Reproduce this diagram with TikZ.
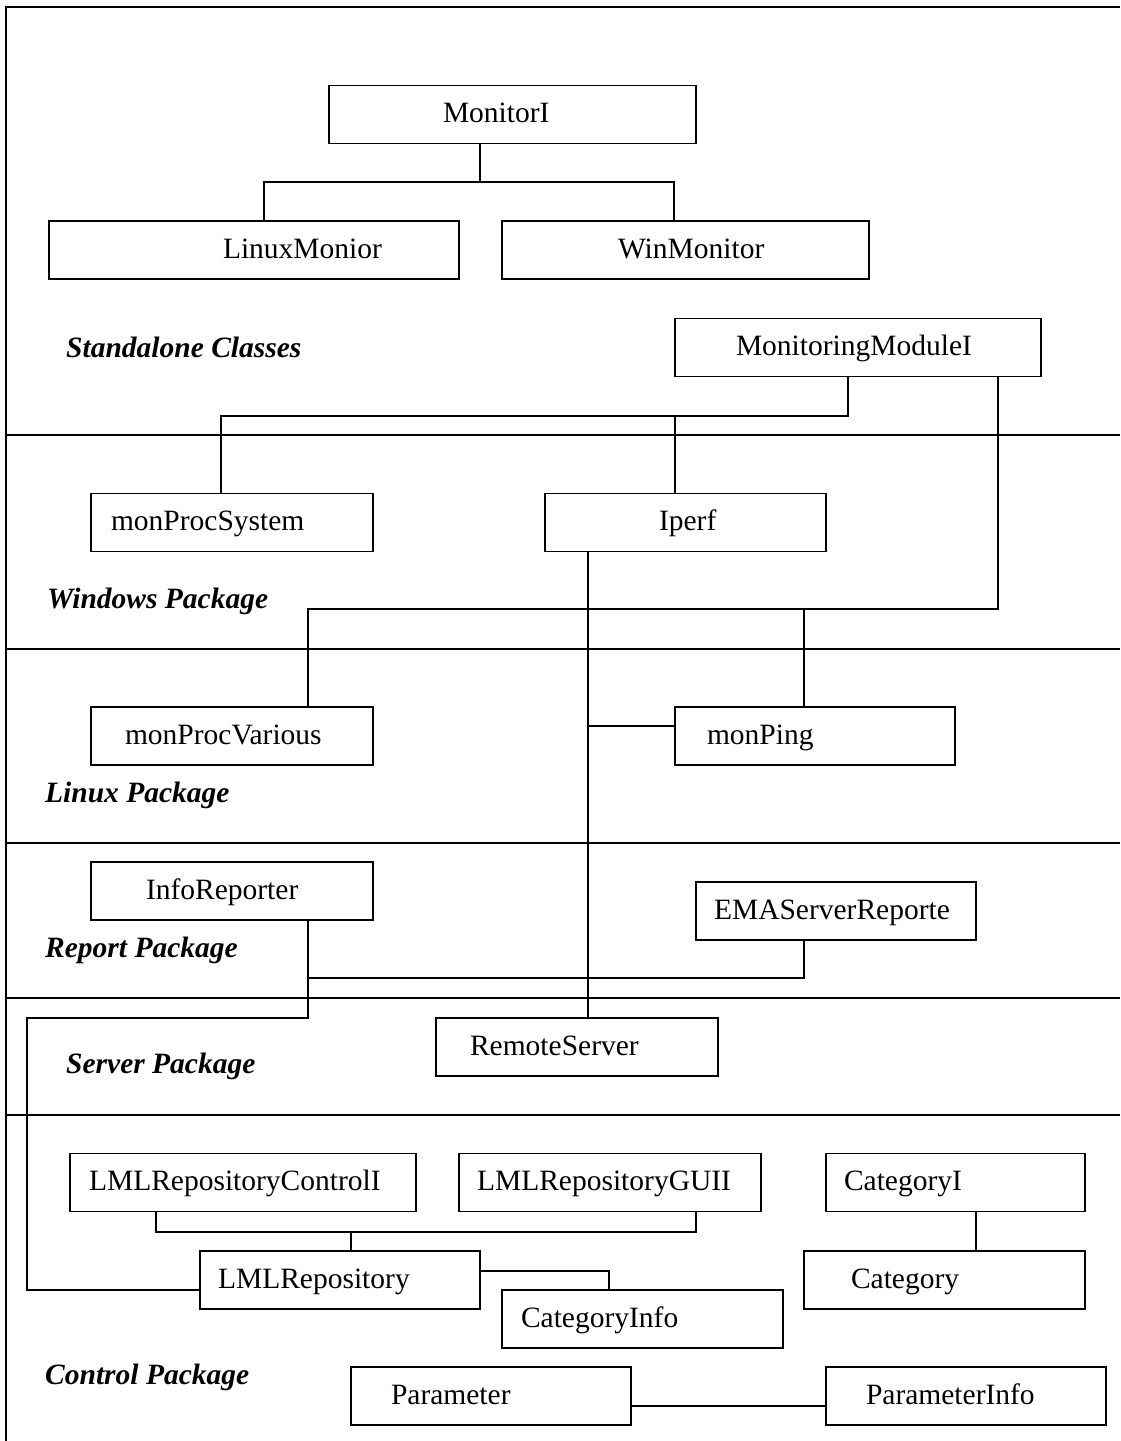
\documentclass[tikz,border=0pt]{standalone}
\usepackage{fontspec}
\setmainfont{Liberation Serif}

\begin{document}
\begin{tikzpicture}[
    x=1pt, y=-1pt,
    box/.style={draw, line width=1.6pt, text width=#1pt, minimum height=58pt,
        text height=21pt, text depth=5pt,
        inner xsep=0pt, align=left, font=\fontsize{29.5}{34}\selectfont},
    pad/.style={execute at begin node={\noindent\hspace*{#1pt}}},
    pkg/.style={anchor=base west, inner sep=0pt,
        font=\fontsize{29.5}{34}\selectfont\bfseries\itshape},
    link/.style={line width=1.2pt},
    frame/.style={line width=2pt}
]
\useasboundingbox (0,0) rectangle (1120,1441);

\draw[frame] (1120,7) -- (6,7) -- (6,1441);
\foreach \y in {435, 649, 843, 998, 1115}
    \draw[frame] (6,\y) -- (1120,\y);

\node[box=367, pad=114] (monitorI) at (512.5,114.5) {MonitorI};
\node[box=410, pad=174] (linuxMon) at (254,250) {LinuxMonior};
\node[box=367, pad=116] (winMon) at (685.5,250) {WinMonitor};
\node[box=366, pad=61] (monModule) at (858,347.5) {MonitoringModuleI};
\node[box=282, pad=20] (monProcSys) at (232,522.5) {monProcSystem};
\node[box=281, pad=114] (iperf) at (685.5,522.5) {Iperf};
\node[box=282, pad=34] (monProcVar) at (232,736) {monProcVarious};
\node[box=280, pad=32] (monPing) at (815,736) {monPing};
\node[box=282, pad=55] (infoRep) at (232,891) {InfoReporter};
\node[box=280, pad=18] (emaRep) at (836,911) {EMAServerReporte};
\node[box=282, pad=34] (remoteSrv) at (577,1047) {RemoteServer};
\node[box=346, pad=19] (lmlCtrl) at (243,1182.5) {LMLRepositoryControlI};
\node[box=302, pad=18] (lmlGui) at (610,1182.5) {LMLRepositoryGUII};
\node[box=259, pad=18] (categoryI) at (955.5,1182.5) {CategoryI};
\node[box=280, pad=18] (lmlRepo) at (340,1280) {LMLRepository};
\node[box=281, pad=19] (catInfo) at (642.5,1319) {CategoryInfo};
\node[box=281, pad=47] (category) at (944.5,1280) {Category};
\node[box=280, pad=40] (parameter) at (491,1396) {Parameter};
\node[box=280, pad=40] (paramInfo) at (966,1396) {ParameterInfo};

\node[pkg] (standalone) at (66,357) {Standalone Classes};
\node[pkg] (windows) at (47,608) {Windows Package};
\node[pkg] (linux) at (45,802) {Linux Package};
\node[pkg] (report) at (45,957) {Report Package};
\node[pkg] (server) at (66,1073) {Server Package};
\node[pkg] (control) at (45,1384) {Control Package};

\draw[link] (monitorI.south -| 480,0) |- (264,182) -- (linuxMon.north -| 264,0);
\draw[link] (480,182) -| (winMon.north -| 674,0);
\draw[link] (monModule.south -| 848,0) |- (221,416) -- (monProcSys.north -| 221,0);
\draw[link] (675,416) -- (iperf.north -| 675,0);
\draw[link] (monModule.south -| 998,0) |- (308,609) -- (monProcVar.north -| 308,0);
\draw[link] (804,609) -- (monPing.north -| 804,0);
\draw[link] (iperf.south -| 588,0) -- (remoteSrv.north -| 588,0);
\draw[link] (588,726) -- (monPing.west |- 0,726);
\draw[link] (infoRep.south -| 308,0) |- (804,978) -- (emaRep.south -| 804,0);
\draw[link] (308,978) |- (27,1018) |- (lmlRepo.west |- 0,1290);
\draw[link] (lmlCtrl.south -| 156,0) |- (696,1232) -- (lmlGui.south -| 696,0);
\draw[link] (351,1232) -- (lmlRepo.north -| 351,0);
\draw[link] (lmlRepo.east |- 0,1271) -| (catInfo.north -| 609,0);
\draw[link] (categoryI.south -| 976,0) -- (category.north -| 976,0);
\draw[link] (parameter.east |- 0,1406) -- (paramInfo.west |- 0,1406);
\end{tikzpicture}
\end{document}
